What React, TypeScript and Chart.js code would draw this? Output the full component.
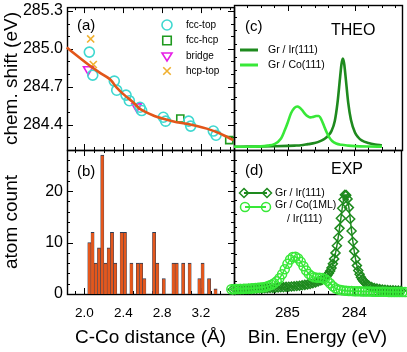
import React, { useEffect, useRef } from "react";
import { Chart, registerables } from "chart.js";

Chart.register(...registerables);

const FONT = "'Liberation Sans', Arial, Helvetica, sans-serif";
const CW = 407;
const CH = 352;
// panel edges (px)
const L = 67, M = 234, R = 402, T = 5, MID = 150, B = 294;

// ---------- panel (a): chemical shift vs distance ----------
const FCC_TOP_X = [2.05, 2.085, 2.307, 2.332, 2.428, 2.462, 2.572, 2.589, 2.812, 2.836, 3.073, 3.094, 3.327, 3.355];
const FCC_TOP_Y = [284.974, 284.792, 284.745, 284.673, 284.634, 284.59, 284.538, 284.512, 284.459, 284.428, 284.428, 284.389, 284.35, 284.317];
const FCC_HCP_X = [2.987, 3.491];
const FCC_HCP_Y = [284.449, 284.278];
const BRIDGE_X = [2.039, 2.538];
const BRIDGE_Y = [284.837, 284.543];
const HCP_TOP_X = [2.064, 2.091];
const HCP_TOP_Y = [285.078, 284.876];
const FIT_X = [1.817, 2.039, 2.16, 2.263, 2.332, 2.4, 2.503, 2.572, 2.709, 2.812, 2.95, 3.053, 3.259, 3.396, 3.533];
const FIT_Y = [285.01, 284.876, 284.81, 284.759, 284.693, 284.642, 284.576, 284.525, 284.473, 284.447, 284.42, 284.408, 284.369, 284.33, 284.278];
const SHIFT_TICKS = [284.4, 284.7, 285.0, 285.3];

// ---------- panel (b): histogram ----------
const HIST_CENTERS = [2.05, 2.0833, 2.1167, 2.15, 2.1833, 2.2167, 2.25, 2.2833, 2.3167, 2.35, 2.3833, 2.4167, 2.45, 2.4833, 2.5167, 2.55, 2.5833, 2.6167, 2.65, 2.6833, 2.7167, 2.75, 2.7833, 2.8167, 2.85, 2.8833, 2.9167, 2.95, 2.9833, 3.0167, 3.05, 3.0833, 3.1167, 3.15, 3.1833, 3.2167, 3.25, 3.2833, 3.3167, 3.35];
const HIST_COUNTS = [10, 12, 6, 9, 27, 6, 9, 12, 6, 0, 12, 12, 0, 6, 0, 6, 6, 3, 0, 0, 12, 6, 0, 3, 0, 0, 6, 6, 0, 6, 0, 6, 0, 0, 3, 6, 0, 3, 0, 1];
const DIST_TICKS = [2.0, 2.4, 2.8, 3.2];
const COUNT_TICKS = [0, 10, 20];

// ---------- panel (c): theory spectra [binding energy, intensity] ----------
const THEO_IR: [number, number][] = [
  [285.8, 0.024], [285.6, 0.025], [285.4, 0.026], [285.2, 0.028], [285.0, 0.031], [284.9, 0.033], [284.8, 0.036],
  [284.7, 0.044], [284.6, 0.052], [284.5, 0.071], [284.45, 0.085], [284.4, 0.107], [284.35, 0.142], [284.3, 0.218],
  [284.26, 0.354], [284.22, 0.554], [284.2, 0.647], [284.18, 0.687], [284.16, 0.647], [284.14, 0.554], [284.1, 0.354],
  [284.06, 0.227], [284.0, 0.131], [283.95, 0.094], [283.9, 0.072], [283.8, 0.052], [283.7, 0.041], [283.6, 0.035],
];
const THEO_CO: [number, number][] = [
  [285.8, 0.024], [285.6, 0.024], [285.4, 0.027], [285.3, 0.033], [285.2, 0.044], [285.1, 0.087], [285.05, 0.142],
  [285.0, 0.207], [284.95, 0.278], [284.9, 0.316], [284.86, 0.327], [284.82, 0.318], [284.78, 0.296], [284.74, 0.27],
  [284.7, 0.253], [284.66, 0.245], [284.62, 0.249], [284.58, 0.255], [284.54, 0.256], [284.5, 0.229], [284.46, 0.18],
  [284.42, 0.131], [284.38, 0.093], [284.34, 0.068], [284.28, 0.049], [284.2, 0.039], [284.1, 0.033], [284.0, 0.029],
  [283.8, 0.026], [283.6, 0.025],
];

// ---------- panel (d): experimental spectra [binding energy, intensity] ----------
const EXP_IR: [number, number][] = [
  [285.82, 0.034], [285.78, 0.035], [285.74, 0.035], [285.7, 0.036], [285.66, 0.036], [285.62, 0.037], [285.58, 0.038],
  [285.54, 0.038], [285.5, 0.039], [285.46, 0.04], [285.42, 0.041], [285.38, 0.042], [285.34, 0.043], [285.3, 0.044],
  [285.26, 0.045], [285.22, 0.046], [285.18, 0.047], [285.14, 0.049], [285.1, 0.05], [285.06, 0.051], [285.02, 0.053],
  [284.98, 0.054], [284.94, 0.056], [284.9, 0.058], [284.86, 0.06], [284.82, 0.062], [284.78, 0.065], [284.74, 0.068],
  [284.7, 0.071], [284.66, 0.075], [284.62, 0.08], [284.58, 0.086], [284.54, 0.093],
  [284.5, 0.102], [284.48, 0.107], [284.46, 0.114], [284.44, 0.121], [284.42, 0.13], [284.4, 0.141], [284.38, 0.155],
  [284.36, 0.172], [284.34, 0.195], [284.32, 0.225], [284.3, 0.262], [284.28, 0.307], [284.26, 0.36], [284.24, 0.422],
  [284.22, 0.49], [284.2, 0.565], [284.18, 0.64], [284.16, 0.705], [284.14, 0.74], [284.12, 0.738], [284.1, 0.71],
  [284.08, 0.645], [284.06, 0.56], [284.04, 0.47], [284.02, 0.39], [284.0, 0.32], [283.98, 0.26], [283.96, 0.212],
  [283.94, 0.175], [283.92, 0.147], [283.9, 0.125], [283.88, 0.108], [283.86, 0.095], [283.84, 0.085], [283.82, 0.076],
  [283.8, 0.069], [283.78, 0.062],
  [283.74, 0.052], [283.7, 0.045], [283.66, 0.04], [283.62, 0.036], [283.58, 0.033], [283.54, 0.031], [283.5, 0.029],
  [283.46, 0.028], [283.42, 0.027], [283.38, 0.026], [283.34, 0.025], [283.3, 0.024],
];
const EXP_CO: [number, number][] = [
  [285.84, 0.036], [285.8, 0.036], [285.76, 0.037], [285.72, 0.037], [285.68, 0.038], [285.64, 0.039], [285.6, 0.04],
  [285.56, 0.041], [285.52, 0.042], [285.48, 0.044], [285.44, 0.046], [285.4, 0.048], [285.36, 0.051], [285.32, 0.055],
  [285.28, 0.061], [285.24, 0.069], [285.2, 0.08], [285.16, 0.096], [285.12, 0.118], [285.08, 0.147], [285.04, 0.185],
  [285.0, 0.225], [284.96, 0.258], [284.92, 0.276], [284.88, 0.278], [284.84, 0.265], [284.8, 0.24], [284.76, 0.207],
  [284.72, 0.175], [284.68, 0.15], [284.64, 0.134], [284.6, 0.125], [284.56, 0.122], [284.52, 0.121], [284.48, 0.119],
  [284.44, 0.112], [284.4, 0.098], [284.36, 0.078], [284.32, 0.058], [284.28, 0.043], [284.24, 0.034], [284.2, 0.029],
  [284.16, 0.026], [284.12, 0.024], [284.08, 0.023], [284.04, 0.022], [284.0, 0.021], [283.96, 0.02], [283.92, 0.02],
  [283.88, 0.019], [283.84, 0.019], [283.8, 0.018], [283.76, 0.018], [283.72, 0.017], [283.68, 0.017], [283.64, 0.017],
  [283.6, 0.016], [283.56, 0.016], [283.52, 0.016], [283.48, 0.015], [283.44, 0.015], [283.4, 0.015], [283.36, 0.015],
  [283.32, 0.014], [283.28, 0.014], [283.24, 0.014],
];
const BE_TICKS = [285, 284];

// ---------- colours ----------
const C_TURQ = "#3fd8d0";
const C_SQ = "#1f9a1f";
const C_MAG = "#e61ee6";
const C_GOLD = "#f0b030";
const C_FIT = "#e2561a";
const C_BAR = "#e4571c";
const C_BAR_EDGE = "#2b3c55";
const C_DARK = "#1e8a1e";
const C_LIGHT = "#38e838";

function steps(min: number, max: number, step: number): number[] {
  const out: number[] = [];
  const start = Math.ceil(min / step - 1e-9);
  for (let k = start; k * step <= max + 1e-9; k++) out.push(+(k * step).toFixed(6));
  return out;
}

function drawMark(ctx: CanvasRenderingContext2D, kind: string, x: number, y: number, r: number, color: string, lw: number) {
  ctx.save();
  ctx.strokeStyle = color;
  ctx.lineWidth = lw;
  ctx.beginPath();
  if (kind === "circle") ctx.arc(x, y, r, 0, Math.PI * 2);
  else if (kind === "rect") ctx.rect(x - r * 0.85, y - r * 0.85, r * 1.7, r * 1.7);
  else if (kind === "triDown") {
    ctx.moveTo(x - r, y - r * 0.6);
    ctx.lineTo(x + r, y - r * 0.6);
    ctx.lineTo(x, y + r);
    ctx.closePath();
  } else if (kind === "cross") {
    const d = r * 0.75;
    ctx.moveTo(x - d, y - d); ctx.lineTo(x + d, y + d);
    ctx.moveTo(x + d, y - d); ctx.lineTo(x - d, y + d);
  } else if (kind === "diamond") {
    ctx.moveTo(x, y - r); ctx.lineTo(x + r, y); ctx.lineTo(x, y + r); ctx.lineTo(x - r, y); ctx.closePath();
  }
  ctx.stroke();
  ctx.restore();
}

type TextItem = { t: string; x: number; y: number; size: number };
type LegItem = { kind?: string; mx?: number; lineX?: [number, number]; lineW?: number; endMarks?: boolean; color: string; y: number };
type Decor = {
  xMajor: number[]; xMinor: number[]; yMajor: number[]; yMinor: number[]; yRight: boolean;
  texts: TextItem[]; legend: LegItem[];
};

function makeDecor(cfg: Decor) {
  return {
    id: "decor",
    beforeDatasetsDraw(chart: any) {
      const { ctx, chartArea: a } = chart;
      const xs = chart.scales.x, ys = chart.scales.y;
      ctx.save();
      ctx.strokeStyle = "#000";
      ctx.lineWidth = 1;
      ctx.beginPath();
      const tx = (vals: number[], len: number) => {
        for (const v of vals) {
          const p = Math.round(xs.getPixelForValue(v)) + 0.5;
          if (p < a.left + 1 || p > a.right - 1) continue;
          ctx.moveTo(p, a.bottom); ctx.lineTo(p, a.bottom - len);
          ctx.moveTo(p, a.top); ctx.lineTo(p, a.top + len);
        }
      };
      const ty = (vals: number[], len: number) => {
        for (const v of vals) {
          const p = Math.round(ys.getPixelForValue(v)) + 0.5;
          if (p < a.top + 1 || p > a.bottom - 1) continue;
          ctx.moveTo(a.left, p); ctx.lineTo(a.left + len, p);
          if (cfg.yRight) { ctx.moveTo(a.right, p); ctx.lineTo(a.right - len, p); }
        }
      };
      tx(cfg.xMinor, 3); tx(cfg.xMajor, 6);
      ty(cfg.yMinor, 3); ty(cfg.yMajor, 6);
      ctx.stroke();
      ctx.lineWidth = 1.4;
      ctx.strokeRect(a.left + 0.5, a.top + 0.5, a.right - a.left, a.bottom - a.top);
      ctx.restore();
    },
    afterDatasetsDraw(chart: any) {
      const { ctx } = chart;
      ctx.save();
      ctx.fillStyle = "#000";
      ctx.textAlign = "left";
      ctx.textBaseline = "middle";
      for (const t of cfg.texts) {
        ctx.font = `${t.size}px ${FONT}`;
        ctx.fillText(t.t, t.x, t.y);
      }
      for (const g of cfg.legend) {
        if (g.lineX) {
          ctx.strokeStyle = g.color;
          ctx.lineWidth = g.lineW || 3;
          ctx.beginPath();
          ctx.moveTo(g.lineX[0], g.y);
          ctx.lineTo(g.lineX[1], g.y);
          ctx.stroke();
          if (g.endMarks && g.kind) {
            drawMark(ctx, g.kind, g.lineX[0], g.y, 4.5, g.color, 1.5);
            drawMark(ctx, g.kind, g.lineX[1], g.y, 4.5, g.color, 1.5);
          }
        } else if (g.kind && g.mx !== undefined) {
          drawMark(ctx, g.kind, g.mx, g.y, 5, g.color, 1.6);
        }
      }
      ctx.restore();
    },
  };
}

const fixY = (w: number) => (s: any) => {
  s.width = w; s.paddingTop = 0; s.paddingBottom = 0; s.paddingLeft = 0; s.paddingRight = 0;
};
const fixX = (h: number) => (s: any) => {
  s.height = h; s.paddingTop = 0; s.paddingBottom = 0; s.paddingLeft = 0; s.paddingRight = 0;
};
const setTicks = (vals: number[]) => (s: any) => { s.ticks = vals.map((v) => ({ value: v })); };

const noGrid = { display: false, drawTicks: false };
const noBorder = { display: false };
const hiddenAxis = (min: number, max: number, reverse = false) => ({
  type: "linear", display: false, min, max, reverse, offset: false,
});

function base(padding: any) {
  return {
    responsive: false,
    maintainAspectRatio: false,
    animation: false,
    devicePixelRatio: 1,
    layout: { padding },
    plugins: { legend: { display: false }, tooltip: { enabled: false }, title: { display: false } },
    events: [],
  };
}

const pts = (xs: number[], ys: number[]) => xs.map((x, i) => ({ x, y: ys[i] }));
const pairs = (p: [number, number][]) => p.map(([x, y]) => ({ x, y }));

function configA(): any {
  const decor: Decor = {
    xMajor: DIST_TICKS, xMinor: steps(1.82, 3.54, 0.1),
    yMajor: SHIFT_TICKS, yMinor: steps(284.2, 285.33, 0.1), yRight: true,
    texts: [
      { t: "(a)", x: 77, y: 26, size: 15 },
      { t: "fcc-top", x: 186, y: 25, size: 10 },
      { t: "fcc-hcp", x: 186, y: 40.5, size: 10 },
      { t: "bridge", x: 186, y: 56, size: 10 },
      { t: "hcp-top", x: 186, y: 71, size: 10 },
    ],
    legend: [
      { kind: "circle", mx: 167, y: 25, color: C_TURQ },
      { kind: "rect", mx: 167, y: 40.5, color: C_SQ },
      { kind: "triDown", mx: 167, y: 56, color: C_MAG },
      { kind: "cross", mx: 167, y: 71, color: C_GOLD },
    ],
  };
  const o: any = base({ left: 0, top: T, right: CW - M, bottom: CH - MID });
  o.scales = {
    x: hiddenAxis(1.82, 3.54),
    y: {
      type: "linear", min: 284.2, max: 285.33,
      afterBuildTicks: setTicks(SHIFT_TICKS), afterFit: fixY(L),
      grid: noGrid, border: noBorder,
      ticks: { autoSkip: false, color: "#000", padding: 4, font: { family: FONT, size: 16 }, callback: (v: any) => Number(v).toFixed(1) },
      title: { display: true, text: "chem. shift (eV)", color: "#000", font: { family: FONT, size: 19 }, padding: { top: 0, bottom: 0 } },
    },
  };
  return {
    type: "scatter",
    data: {
      datasets: [
        { data: pts(FIT_X, FIT_Y), showLine: true, borderColor: C_FIT, borderWidth: 2.6, pointRadius: 0, tension: 0.2, clip: false },
        { data: pts(FCC_TOP_X, FCC_TOP_Y), pointStyle: "circle", pointRadius: 5, borderColor: C_TURQ, backgroundColor: "rgba(0,0,0,0)", pointBorderWidth: 1.6, clip: false },
        { data: pts(FCC_HCP_X, FCC_HCP_Y), pointStyle: "rect", pointRadius: 5, borderColor: C_SQ, backgroundColor: "rgba(0,0,0,0)", pointBorderWidth: 1.6, clip: false },
        { data: pts(BRIDGE_X, BRIDGE_Y), pointStyle: "triangle", rotation: 180, pointRadius: 5.5, borderColor: C_MAG, backgroundColor: "rgba(0,0,0,0)", pointBorderWidth: 1.6, clip: false },
        { data: pts(HCP_TOP_X, HCP_TOP_Y), pointStyle: "crossRot", pointRadius: 5, borderColor: C_GOLD, backgroundColor: "rgba(0,0,0,0)", pointBorderWidth: 1.6, clip: false },
      ],
    },
    options: o,
    plugins: [makeDecor(decor)],
  };
}

function configB(): any {
  const decor: Decor = {
    xMajor: DIST_TICKS, xMinor: steps(1.82, 3.54, 0.1),
    yMajor: COUNT_TICKS, yMinor: steps(0, 28, 2), yRight: true,
    texts: [{ t: "(b)", x: 77, y: 171.5, size: 15 }],
    legend: [],
  };
  const o: any = base({ left: 0, top: MID, right: CW - M, bottom: 0 });
  o.scales = {
    x: {
      type: "linear", min: 1.82, max: 3.54, offset: false,
      afterBuildTicks: setTicks(DIST_TICKS), afterFit: fixX(CH - B),
      grid: { display: false, drawTicks: false, offset: false }, border: noBorder,
      ticks: { autoSkip: false, maxRotation: 0, color: "#000", padding: 11, font: { family: FONT, size: 13.5 }, callback: (v: any) => Number(v).toFixed(1) },
      title: { display: true, text: "C-Co distance (Å)", color: "#000", font: { family: FONT, size: 19 }, padding: { top: 0, bottom: 3 } },
    },
    y: {
      type: "linear", min: 0, max: 28,
      afterBuildTicks: setTicks(COUNT_TICKS), afterFit: fixY(L),
      grid: noGrid, border: noBorder,
      ticks: { autoSkip: false, color: "#000", padding: 4, font: { family: FONT, size: 16 } },
      title: { display: true, text: "atom count", color: "#000", font: { family: FONT, size: 19 }, padding: { top: 0, bottom: 0 } },
    },
  };
  return {
    type: "bar",
    data: {
      datasets: [{
        data: pts(HIST_CENTERS, HIST_COUNTS),
        backgroundColor: C_BAR, borderColor: C_BAR_EDGE,
        borderWidth: { top: 1, left: 0.5, right: 0.5, bottom: 0 }, borderSkipped: "start",
        barPercentage: 1, categoryPercentage: 1, inflateAmount: 0.3,
      }],
    },
    options: o,
    plugins: [makeDecor(decor)],
  };
}

function configC(): any {
  const decor: Decor = {
    xMajor: BE_TICKS, xMinor: steps(283.3, 285.8, 0.2),
    yMajor: [], yMinor: steps(0, 1.09, 0.1), yRight: false,
    texts: [
      { t: "(c)", x: 245, y: 26.5, size: 15 },
      { t: "THEO", x: 331, y: 31, size: 16 },
      { t: "Gr / Ir(111)", x: 268, y: 50, size: 10.5 },
      { t: "Gr / Co(111)", x: 268, y: 65, size: 10.5 },
    ],
    legend: [
      { lineX: [240, 258], color: C_DARK, y: 50, lineW: 3 },
      { lineX: [240, 258], color: C_LIGHT, y: 65, lineW: 3 },
    ],
  };
  const o: any = base({ left: M, top: T, right: CW - R, bottom: CH - MID });
  o.scales = { x: hiddenAxis(283.3, 285.8, true), y: hiddenAxis(0, 1.09) };
  return {
    type: "scatter",
    data: {
      datasets: [
        { data: pairs(THEO_CO), showLine: true, borderColor: C_LIGHT, borderWidth: 2.6, pointRadius: 0, cubicInterpolationMode: "monotone", clip: false },
        { data: pairs(THEO_IR), showLine: true, borderColor: C_DARK, borderWidth: 2.6, pointRadius: 0, cubicInterpolationMode: "monotone", clip: false },
      ],
    },
    options: o,
    plugins: [makeDecor(decor)],
  };
}

function configD(): any {
  const decor: Decor = {
    xMajor: BE_TICKS, xMinor: steps(283.3, 285.8, 0.2),
    yMajor: [], yMinor: steps(0, 1.075, 0.1), yRight: false,
    texts: [
      { t: "(d)", x: 245, y: 171, size: 15 },
      { t: "EXP", x: 331, y: 170, size: 16 },
      { t: "Gr / Ir(111)", x: 275, y: 193, size: 10.5 },
      { t: "Gr / Co(1ML)", x: 275, y: 205.5, size: 10.5 },
      { t: "/ Ir(111)", x: 287, y: 219, size: 10.5 },
    ],
    legend: [
      { lineX: [244, 267], color: C_DARK, y: 193, lineW: 2, endMarks: true, kind: "diamond" },
      { lineX: [245, 266], color: C_LIGHT, y: 207, lineW: 2, endMarks: true, kind: "circle" },
    ],
  };
  const o: any = base({ left: M, top: MID, right: CW - R, bottom: 0 });
  o.scales = {
    x: {
      type: "linear", min: 283.3, max: 285.8, reverse: true, offset: false,
      afterBuildTicks: setTicks(BE_TICKS), afterFit: fixX(CH - B),
      grid: noGrid, border: noBorder,
      ticks: { autoSkip: false, maxRotation: 0, color: "#000", padding: 10, font: { family: FONT, size: 15 }, callback: (v: any) => String(v) },
      title: { display: true, text: "Bin. Energy (eV)", color: "#000", font: { family: FONT, size: 19 }, padding: { top: 0, bottom: 3 } },
    },
    y: hiddenAxis(0, 1.075),
  };
  return {
    type: "scatter",
    data: {
      datasets: [
        { data: pairs(EXP_CO), showLine: true, borderColor: C_LIGHT, borderWidth: 1.5, pointStyle: "circle", pointRadius: 4.5, pointBorderWidth: 1.5, pointBorderColor: C_LIGHT, pointBackgroundColor: "rgba(0,0,0,0)", clip: false },
        { data: pairs(EXP_IR), showLine: true, borderColor: C_DARK, borderWidth: 1.5, pointStyle: "rectRot", pointRadius: 4.5, pointBorderWidth: 1.5, pointBorderColor: C_DARK, pointBackgroundColor: "rgba(0,0,0,0)", clip: false },
      ],
    },
    options: o,
    plugins: [makeDecor(decor)],
  };
}

export default function App() {
  const r0 = useRef<HTMLCanvasElement>(null);
  const r1 = useRef<HTMLCanvasElement>(null);
  const r2 = useRef<HTMLCanvasElement>(null);
  const r3 = useRef<HTMLCanvasElement>(null);
  useEffect(() => {
    const charts = [
      new Chart(r0.current as any, configA()),
      new Chart(r1.current as any, configB()),
      new Chart(r2.current as any, configC()),
      new Chart(r3.current as any, configD()),
    ];
    return () => charts.forEach((c) => c.destroy());
  }, []);
  const st: React.CSSProperties = { position: "absolute", left: 0, top: 0, width: CW, height: CH };
  return (
    <div style={{ position: "absolute", left: 0, top: 0, width: CW, height: CH, background: "#fff" }}>
      <canvas ref={r0} width={CW} height={CH} style={st} />
      <canvas ref={r1} width={CW} height={CH} style={st} />
      <canvas ref={r2} width={CW} height={CH} style={st} />
      <canvas ref={r3} width={CW} height={CH} style={st} />
    </div>
  );
}
